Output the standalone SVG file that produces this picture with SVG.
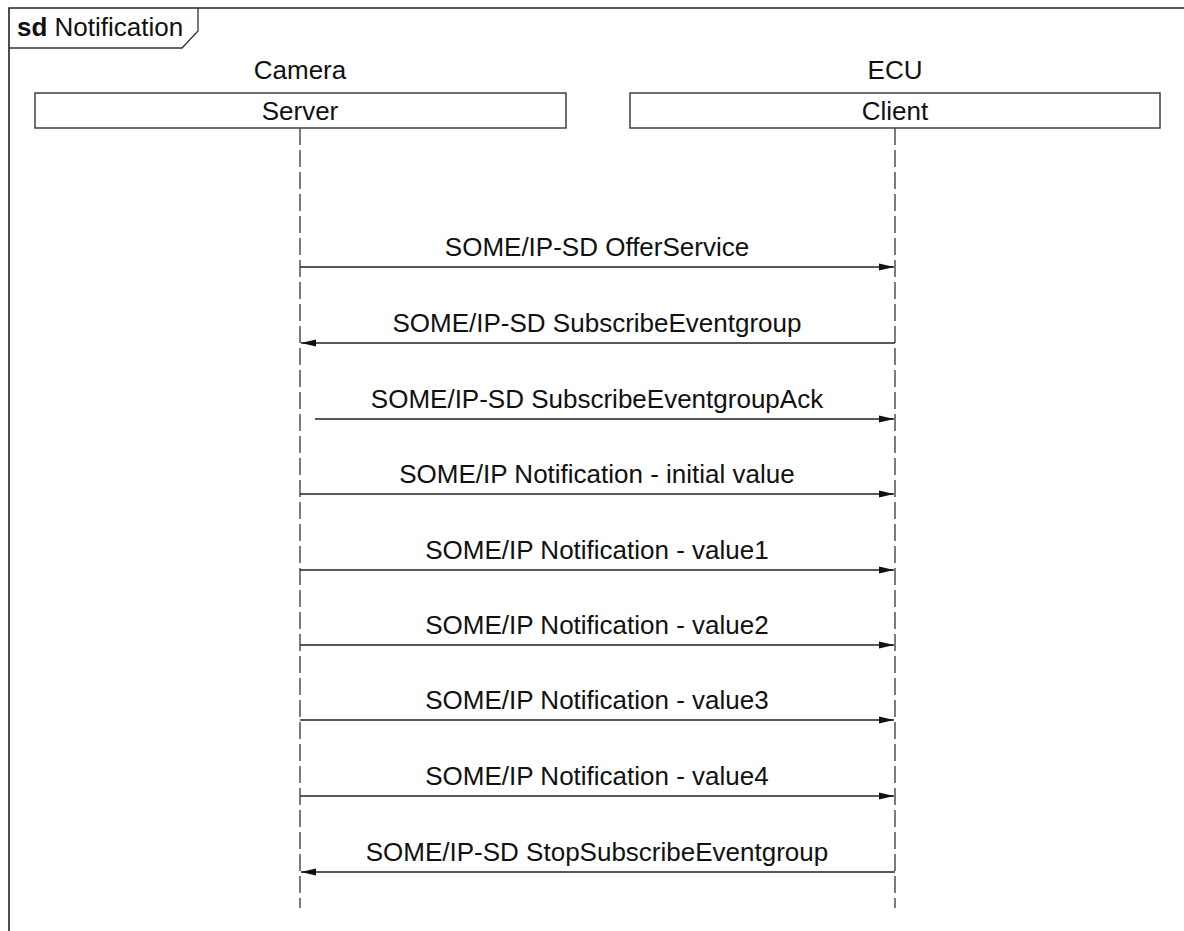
<svg xmlns="http://www.w3.org/2000/svg" width="1184" height="931" viewBox="0 0 1184 931">
<style>
text{font-family:"Liberation Sans",Arial,sans-serif;font-size:26px;fill:#111;text-anchor:middle}
.box{fill:#fff;stroke:#333;stroke-width:1.4}
.life{stroke:#444;stroke-width:1.4;stroke-dasharray:17 5;fill:none}
.msg{stroke:#222;stroke-width:1.3;fill:none}
</style>
<defs>
<marker id="ah" viewBox="0 0 15 8" refX="15" refY="4" markerWidth="15" markerHeight="8" markerUnits="userSpaceOnUse" orient="auto">
<path d="M0,0.4 L15,4 L0,7.6 Z" fill="#111"/>
</marker>
</defs>
<rect width="1184" height="931" fill="#fff"/>
<g id="frame">
<path d="M9,931 V8 H1184" fill="none" stroke="#222" stroke-width="1.6"/>
<path d="M9,48 H182 L198,31 V8" fill="none" stroke="#333" stroke-width="1.3"/>
<text x="17" y="36" style="text-anchor:start"><tspan font-weight="bold">sd</tspan> Notification</text>
</g>
<g id="server">
<text x="300" y="79">Camera</text>
<rect class="box" x="35" y="93" width="531" height="35"/>
<text x="300" y="120">Server</text>
<line class="life" x1="300" y1="128" x2="300" y2="908"/>
</g>
<g id="client">
<text x="895" y="79">ECU</text>
<rect class="box" x="630" y="93" width="530" height="35"/>
<text x="895" y="120">Client</text>
<line class="life" x1="895" y1="128" x2="895" y2="908"/>
</g>
<g id="connectors">
<line class="msg" x1="300" y1="267" x2="894" y2="267" marker-end="url(#ah)"/>
<text x="597" y="256">SOME/IP-SD OfferService</text>
<line class="msg" x1="895" y1="343" x2="301" y2="343" marker-end="url(#ah)"/>
<text x="597" y="332">SOME/IP-SD SubscribeEventgroup</text>
<line class="msg" x1="315" y1="419" x2="894" y2="419" marker-end="url(#ah)"/>
<text x="597" y="408">SOME/IP-SD SubscribeEventgroupAck</text>
<line class="msg" x1="300" y1="494" x2="894" y2="494" marker-end="url(#ah)"/>
<text x="597" y="483">SOME/IP Notification - initial value</text>
<line class="msg" x1="300" y1="570" x2="894" y2="570" marker-end="url(#ah)"/>
<text x="597" y="559">SOME/IP Notification - value1</text>
<line class="msg" x1="300" y1="645" x2="894" y2="645" marker-end="url(#ah)"/>
<text x="597" y="634">SOME/IP Notification - value2</text>
<line class="msg" x1="300" y1="720" x2="894" y2="720" marker-end="url(#ah)"/>
<text x="597" y="709">SOME/IP Notification - value3</text>
<line class="msg" x1="300" y1="796" x2="894" y2="796" marker-end="url(#ah)"/>
<text x="597" y="785">SOME/IP Notification - value4</text>
<line class="msg" x1="895" y1="872" x2="301" y2="872" marker-end="url(#ah)"/>
<text x="597" y="861">SOME/IP-SD StopSubscribeEventgroup</text>
</g>
</svg>
